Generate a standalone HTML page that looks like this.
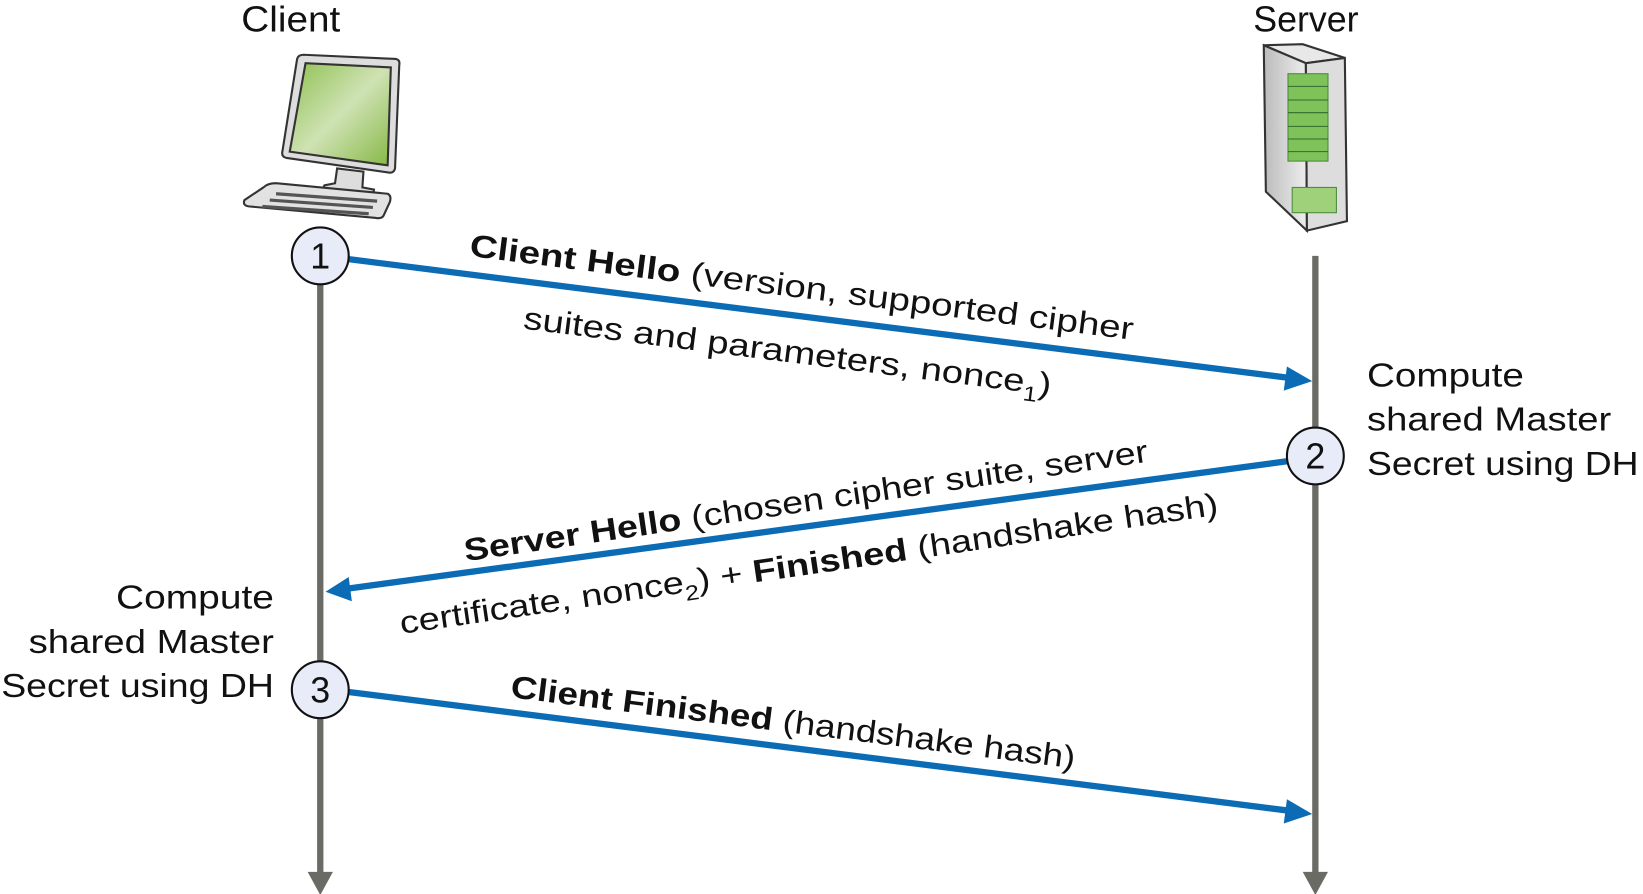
<!DOCTYPE html>
<html><head><meta charset="utf-8"><style>html,body{margin:0;padding:0;background:#fff}svg{display:block}text{font-family:"Liberation Sans",sans-serif;fill:#111}</style></head>
<body>
<svg width="1643" height="894" viewBox="0 0 1560 849" xmlns="http://www.w3.org/2000/svg">
<defs>
<linearGradient id="scr" x1="0" y1="0" x2="1" y2="1"><stop offset="0" stop-color="#8fc04f"/><stop offset="0.5" stop-color="#cfe2b4"/><stop offset="1" stop-color="#86b845"/></linearGradient>
<linearGradient id="srv" x1="0" y1="0" x2="1" y2="0"><stop offset="0" stop-color="#bbb"/><stop offset="1" stop-color="#eee"/></linearGradient>
</defs>
<text x="229" y="30" font-size="34" textLength="94" lengthAdjust="spacingAndGlyphs">Client</text>
<text x="1190" y="30" font-size="34" textLength="100" lengthAdjust="spacingAndGlyphs">Server</text>
<!-- computer -->
<g stroke="#333" stroke-width="2">
<path d="M288 52 L376 56 Q380 57 379 62 L375 160 Q374 164 370 164 L272 150 Q267 149 268 144 L282 56 Q283 52 288 52Z" fill="#ddd"/>
<path d="M290 60 L371 64 L368 157 L275 144Z" fill="url(#scr)"/>
<path d="M320 160 L345 163 L344 178 L355 180 L354 186 L305 182 L308 176 L318 174Z" fill="#ddd"/>
<path d="M262 174 L368 184 Q372 186 370 192 L364 205 Q362 208 357 207 L236 196 Q230 195 232 190 L250 178 Q254 174 262 174Z" fill="#e2e2e2"/>
</g>
<g stroke="#555" stroke-width="3"><line x1="262" y1="184" x2="358" y2="191"/><line x1="256" y1="190" x2="354" y2="197"/><line x1="249" y1="196" x2="350" y2="203"/></g>
<!-- server -->
<g stroke="#333" stroke-width="2">
<path d="M1200 43 L1237 42 L1277 55 L1240 60Z" fill="#e8e8e8"/>
<path d="M1200 43 L1240 60 L1241 219 L1202 182Z" fill="url(#srv)"/>
<path d="M1240 60 L1277 55 L1279 210 L1241 219Z" fill="#ddd"/>
</g>
<rect x="1223" y="70" width="38" height="83" fill="#7fc25a" stroke="#4a8a3a"/>
<g stroke="#2e6b2e" stroke-width="1"><line x1="1223" y1="82" x2="1261" y2="82"/><line x1="1223" y1="95" x2="1261" y2="95"/><line x1="1223" y1="107" x2="1261" y2="107"/><line x1="1223" y1="120" x2="1261" y2="120"/><line x1="1223" y1="132" x2="1261" y2="132"/><line x1="1223" y1="144" x2="1261" y2="144"/></g>
<rect x="1227" y="178" width="42" height="24" fill="#9fd07a" stroke="#4a8a3a"/>
<!-- lifelines -->
<g stroke="#6b6b66" stroke-width="6"><line x1="304" y1="250" x2="304" y2="830"/><line x1="1249" y1="243" x2="1249" y2="830"/></g>
<path d="M292 828 L316 828 L304 850Z" fill="#6b6b66"/>
<path d="M1237 828 L1261 828 L1249 850Z" fill="#6b6b66"/>
<!-- arrows -->
<g stroke="#0b6bb5" stroke-width="6"><line x1="330" y1="246" x2="1225" y2="359"/><line x1="1222" y1="438" x2="330" y2="559"/><line x1="330" y1="657" x2="1225" y2="770"/></g>
<g fill="#0b6bb5"><path d="M1246 362 L1222 348 L1219 371Z"/><path d="M309 562 L331 548 L334 571Z"/><path d="M1246 773 L1222 759 L1219 782Z"/></g>
<!-- circles -->
<g stroke="#111" stroke-width="2" fill="#e8ecf8"><circle cx="304" cy="243" r="27"/><circle cx="1249" cy="433" r="27"/><circle cx="304" cy="655" r="27"/></g>
<g font-size="34" text-anchor="middle"><text x="304" y="255">1</text><text x="1249" y="445">2</text><text x="304" y="667">3</text></g>
<!-- side text -->
<g font-size="32" lengthAdjust="spacingAndGlyphs">
<text x="1298" y="367" textLength="149" lengthAdjust="spacingAndGlyphs">Compute</text>
<text x="1298" y="409" textLength="232" lengthAdjust="spacingAndGlyphs">shared Master</text>
<text x="1298" y="451" textLength="258" lengthAdjust="spacingAndGlyphs">Secret using DH</text>
<text x="110" y="578" textLength="150" lengthAdjust="spacingAndGlyphs">Compute</text>
<text x="27" y="620" textLength="233" lengthAdjust="spacingAndGlyphs">shared Master</text>
<text x="1" y="662" textLength="259" lengthAdjust="spacingAndGlyphs">Secret using DH</text>
</g>
<!-- labels -->
<g font-size="30">
<text transform="translate(445,243) rotate(7.2)" textLength="635" lengthAdjust="spacingAndGlyphs"><tspan font-weight="bold">Client Hello</tspan> (version, supported cipher</text>
<text transform="translate(496,312) rotate(7.2)" textLength="505" lengthAdjust="spacingAndGlyphs">suites and parameters, nonce<tspan font-size="20" dy="8">1</tspan><tspan dy="-8">)</tspan></text>
<text transform="translate(442,533) rotate(-8.3)" textLength="656" lengthAdjust="spacingAndGlyphs"><tspan font-weight="bold">Server Hello</tspan> (chosen cipher suite, server</text>
<text transform="translate(381,602) rotate(-8.3)" textLength="785" lengthAdjust="spacingAndGlyphs">certificate, nonce<tspan font-size="20" dy="8">2</tspan><tspan dy="-8">) + </tspan><tspan font-weight="bold">Finished</tspan> (handshake hash)</text>
<text transform="translate(484,662) rotate(7.2)" textLength="540" lengthAdjust="spacingAndGlyphs"><tspan font-weight="bold">Client Finished</tspan> (handshake hash)</text>
</g>
</svg>
</body></html>
